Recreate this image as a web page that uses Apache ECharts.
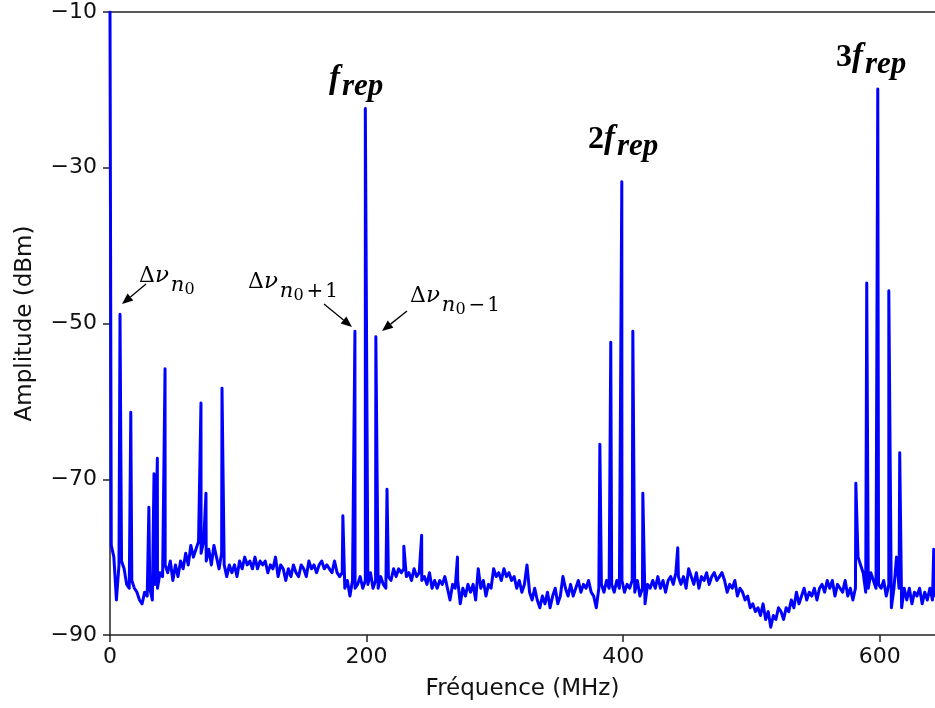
<!DOCTYPE html>
<html><head><meta charset="utf-8">
<script src="https://cdn.jsdelivr.net/npm/echarts@6/dist/echarts.min.js"></script>
<style>html,body{margin:0;padding:0;background:#fff}#c{width:935px;height:708px}</style>
</head><body><div id="c"></div>
<script>
// Noise floor samples: frequency = noiseStart + i*noiseStep (MHz), amplitude in dBm
const noiseStart = 1, noiseStep = 2;
const noise = [
  -78.5,-80,-85.5,-81,-80.5,-81.5,-83.5,-84,-83,-84,
  -84.5,-85.5,-86,-84.5,-85,-84,-85.5,-83.5,-84,-82,
  -82.5,-81,-82,-80.5,-83,-81,-82.5,-80.5,-81.5,-79.5,
  -81,-78.5,-80,-79,-78,-79.5,-78,-80.5,-79,-81,
  -78.5,-80,-81.5,-79.5,-81,-82.5,-81,-82,-81,-82.5,
  -80.5,-81.5,-80,-81,-80.5,-81.5,-80,-81.5,-80.5,-81,
  -80.5,-82,-81,-81.5,-80,-82.5,-81,-81.5,-83,-81.5,
  -82.5,-81,-82,-82.5,-81,-81.5,-82.5,-80.5,-81.5,-81,
  -82,-81,-80.5,-81.5,-81,-81.5,-82,-80.5,-82,-82.5,
  -82,-84,-83,-85,-83,-84,-83.5,-82.5,-84,-83,
  -83.5,-82,-84,-83,-84,-82.5,-83.5,-84,-82.5,-83,
  -81.5,-82.5,-81.5,-82,-81.5,-82.5,-82,-83,-81.5,-82.5,
  -82,-83,-82.5,-83.5,-82,-84,-83,-84,-83,-83.5,
  -82.5,-84,-85.5,-83.5,-84,-83,-86,-84,-85,-83.5,
  -84.5,-83.5,-85.5,-81.5,-84,-83,-85,-83.5,-84,-81.5,
  -82.5,-82,-83,-81.5,-82.5,-82,-83,-82.5,-84,-83,
  -84.5,-83.5,-81,-84.5,-85.5,-84,-85.5,-86.5,-85,-86,
  -84.5,-86.5,-85,-84,-86,-85,-82.5,-84,-85,-83.5,
  -85,-84,-83,-84.5,-83.5,-84,-83,-84.5,-85,-86.5,
  -84,-83.5,-84.5,-83,-84,-83.5,-84.5,-83,-84,-83,
  -84.5,-83.5,-84,-83,-84.5,-83,-85,-84,-86,-83.5,
  -84,-83,-84,-82.5,-84,-83,-84.5,-83,-82.5,-83.5,
  -82,-82.5,-83.5,-82.5,-84,-81.5,-82.5,-83.5,-82,-84,
  -82.5,-83,-82,-83.5,-82.5,-82,-83,-82.5,-82,-83,
  -84.5,-83.5,-84,-83,-85,-84,-84.5,-85.5,-85,-86.5,
  -86,-87,-86.5,-87.5,-86,-88,-87,-89,-87.5,-88,
  -86.5,-87,-88,-86.5,-87,-85.5,-86.5,-84.5,-86,-85,
  -84,-85.5,-84.5,-85,-84,-85.5,-84,-83.5,-84.5,-83,
  -84,-83,-85,-83.5,-84,-84.5,-83,-85,-84,-85.5,
  -84,-80,-81,-82,-84.5,-84,-82,-83,-84,-83.5,
  -84,-83,-85,-83.5,-86.5,-84,-80,-84,-86.5,-84,
  -85.5,-84,-86,-84.5,-85,-84,-86,-84.5,-85.5,-84,
  -85.5,-85
];
// Spectral lines: [frequency MHz, amplitude dBm]
const peakFreqs = [0, 7.8, 16.2, 30.3, 34.3, 36.9, 42.9, 70.9, 74.8, 87.3,
  181.5, 190.9, 199.0, 207.2, 215.9, 229.0, 242.9, 270.8,
  381.8, 390.3, 398.9, 407.5, 415.3, 442.5,
  581.3, 589.8, 598.4, 607.0, 615.5, 642.0];
const peakValues = [-10, -48.8, -61.4, -73.6, -69.3, -67.3, -55.8, -60.2, -71.8, -58.3,
  -74.7, -51.0, -22.4, -51.7, -71.3, -78.6, -77.2, -80.0,
  -65.5, -52.4, -31.8, -51.0, -71.8, -78.8,
  -70.5, -44.8, -19.9, -45.8, -66.6, -79.0];
const yTicks = [-90, -70, -50, -30, -10];
const xTicks = [0, 200, 400, 600];
const xLabel = 'Fréquence (MHz)';
const yLabel = 'Amplitude (dBm)';

const pts = noise.map((v, i) => [noiseStart + i * noiseStep, v]);
peakFreqs.forEach((f, i) => pts.push([f, peakValues[i]]));
pts.sort((a, b) => a[0] - b[0]);

// ---- annotation helpers ----
const mctx = document.createElement('canvas').getContext('2d');
function fstr(p) { return (p.italic ? 'italic ' : '') + (p.bold ? 'bold ' : '') + p.size + 'px ' + p.family; }
function chain(x0, base, parts) {
  let x = x0; const els = [];
  parts.forEach(p => {
    const f = fstr(p);
    mctx.font = f;
    const w = mctx.measureText(p.t).width;
    const b = base + (p.dy || 0);
    els.push({ type: 'text', x: x + (p.dx || 0), y: b - 0.34 * p.size, z: 100,
      style: { text: p.t, font: f, fill: '#000', align: 'left', verticalAlign: 'middle' } });
    x += w + (p.dx || 0) + (p.gap || 0);
  });
  return els;
}
function arrow(x1, y1, x2, y2) {
  const dx = x2 - x1, dy = y2 - y1, L = Math.hypot(dx, dy);
  const ux = dx / L, uy = dy / L, hl = 11, hw = 4.5;
  const bx = x2 - ux * hl, by = y2 - uy * hl;
  return [
    { type: 'line', z: 100, shape: { x1: x1, y1: y1, x2: bx, y2: by }, style: { stroke: '#000', lineWidth: 1.3 } },
    { type: 'polygon', z: 100, shape: { points: [[x2, y2], [bx - uy * hw, by + ux * hw], [bx + uy * hw, by - ux * hw]] }, style: { fill: '#000' } }
  ];
}
const SB = { family: 'Liberation Serif', bold: true };
const big = Object.assign({}, SB, { size: 32 });
const bigI = Object.assign({}, SB, { size: 33, italic: true });
const subI = Object.assign({}, SB, { size: 31, italic: true, dy: 7 });
const DS = 'DejaVu Serif';
function dnu(suffix) {
  const parts = [
    { t: 'Δ', size: 22, family: DS },
    { t: 'ν', size: 23, family: DS, italic: true, gap: 2 },
    { t: 'n', size: 21, family: DS, italic: true, dy: 9 },
    { t: '0', size: 16, family: DS, dy: 11, gap: 3 }
  ];
  suffix.forEach(s => parts.push({ t: s, size: 20, family: DS, dy: 9, gap: 2 }));
  return parts;
}
let graphics = [];
graphics = graphics.concat(chain(329, 91, [Object.assign({ t: 'f', gap: 2 }, bigI), Object.assign({ t: 'rep' }, subI)]));
graphics = graphics.concat(chain(588, 151, [Object.assign({ t: '2' }, big), Object.assign({ t: 'f', gap: 2 }, bigI), Object.assign({ t: 'rep' }, subI)]));
graphics = graphics.concat(chain(836, 69, [Object.assign({ t: '3' }, big), Object.assign({ t: 'f', gap: 2 }, bigI), Object.assign({ t: 'rep' }, subI)]));
graphics = graphics.concat(chain(139, 284, dnu([])));
graphics = graphics.concat(chain(248, 290, dnu(['+', '1'])));
graphics = graphics.concat(chain(410, 304, dnu(['−', '1'])));
graphics = graphics.concat(arrow(146, 284, 122, 304));
graphics = graphics.concat(arrow(324, 304, 352, 327));
graphics = graphics.concat(arrow(407, 311, 382, 331));

const chart = echarts.init(document.getElementById('c'), null, { renderer: 'canvas' });
const axisCol = '#222';
const tickFont = { fontFamily: 'DejaVu Sans', fontSize: 22, color: '#111' };
chart.setOption({
  animation: false,
  backgroundColor: '#fff',
  grid: { left: 110, right: 0, top: 12, bottom: 73, containLabel: false, outerBoundsMode: 'none' },
  xAxis: [{
    type: 'value', min: xTicks[0], max: 643, interval: xTicks[1] - xTicks[0],
    name: xLabel, nameLocation: 'middle', nameGap: 43,
    nameTextStyle: { fontFamily: 'DejaVu Sans', fontSize: 23, color: '#111' },
    axisLine: { show: true, onZero: false, lineStyle: { color: axisCol, width: 1.5 } },
    axisTick: { show: true, length: 7, lineStyle: { color: axisCol, width: 1.5 } },
    axisLabel: Object.assign({ margin: 11, showMaxLabel: false, showMinLabel: true }, tickFont),
    splitLine: { show: false }
  }, {
    type: 'value', position: 'top', min: xTicks[0], max: 643,
    axisLine: { show: true, onZero: false, lineStyle: { color: axisCol, width: 1.5 } },
    axisTick: { show: false }, axisLabel: { show: false }, splitLine: { show: false }
  }],
  yAxis: {
    type: 'value', min: yTicks[0], max: yTicks[yTicks.length - 1], interval: yTicks[1] - yTicks[0],
    name: yLabel, nameLocation: 'middle', nameGap: 73, nameRotate: 90,
    nameTextStyle: { fontFamily: 'DejaVu Sans', fontSize: 23, color: '#111' },
    axisLine: { show: true, onZero: false, lineStyle: { color: axisCol, width: 1.5 } },
    axisTick: { show: true, length: 7, lineStyle: { color: axisCol, width: 1.5 } },
    axisLabel: Object.assign({ margin: 13, formatter: v => (v < 0 ? '\u2212' + Math.abs(v) : String(v)) }, tickFont),
    splitLine: { show: false }
  },
  series: [{
    type: 'line', data: pts, showSymbol: false, symbol: 'none', clip: true, sampling: null,
    lineStyle: { color: '#0000ff', width: 3, cap: 'round', join: 'round' },
    z: 3
  }],
  graphic: graphics
});
</script>
</body></html>
